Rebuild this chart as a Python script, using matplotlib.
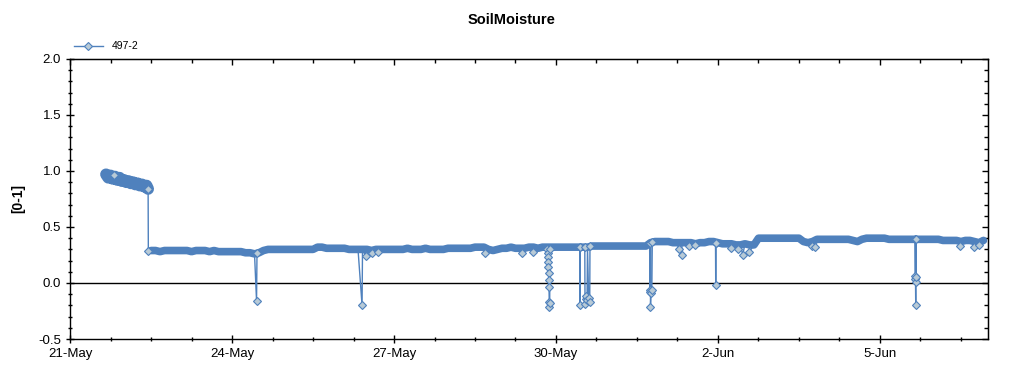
import numpy as np
import matplotlib.pyplot as plt
from matplotlib.lines import Line2D
from matplotlib.ticker import MultipleLocator, FixedLocator, FixedFormatter

plt.rcParams['font.family'] = ['Liberation Sans', 'DejaVu Sans']

# hours are counted from 21-May 00:00
# first day of readings (wet start), hourly
blob_hours = [16, 17, 18, 19, 20, 21, 22, 23, 24, 25, 26, 27, 28, 29, 30, 31, 32, 33, 34, 34.7]
blob_values = [0.97, 0.94, 0.96, 0.93, 0.95, 0.92, 0.94, 0.91, 0.92, 0.90, 0.91, 0.89,
               0.90, 0.88, 0.89, 0.87, 0.88, 0.86, 0.87, 0.84]

# main readings every 2 hours from 22-May 12:00
base_start = 36
base_values = [
    # 22-May (12h..22h)
    0.29, 0.29, 0.28, 0.29, 0.29, 0.29,
    # 23-May
    0.29, 0.29, 0.29, 0.28, 0.29, 0.29, 0.29, 0.28, 0.29, 0.28, 0.28, 0.28,
    # 24-May
    0.28, 0.28, 0.28, 0.27, 0.27, 0.26, 0.27, 0.29, 0.30, 0.30, 0.30, 0.30,
    # 25-May
    0.30, 0.30, 0.30, 0.30, 0.30, 0.30, 0.30, 0.32, 0.32, 0.31, 0.31, 0.31,
    # 26-May
    0.31, 0.31, 0.30, 0.30, 0.30, 0.30, 0.30, 0.29, 0.30, 0.30, 0.30, 0.30,
    # 27-May
    0.30, 0.30, 0.30, 0.31, 0.30, 0.30, 0.30, 0.31, 0.30, 0.30, 0.30, 0.30,
    # 28-May
    0.31, 0.31, 0.31, 0.31, 0.31, 0.31, 0.32, 0.32, 0.32, 0.30, 0.29, 0.30,
    # 29-May
    0.31, 0.31, 0.32, 0.31, 0.31, 0.31, 0.32, 0.32, 0.31, 0.32, 0.32, 0.32,
    # 30-May
    0.32, 0.32, 0.32, 0.32, 0.32, 0.32, 0.32, 0.32, 0.33, 0.33, 0.33, 0.33,
    # 31-May
    0.33, 0.33, 0.33, 0.33, 0.33, 0.33, 0.33, 0.33, 0.33, 0.36, 0.37, 0.37,
    # 1-Jun
    0.37, 0.37, 0.36, 0.36, 0.36, 0.36, 0.36, 0.35, 0.36, 0.36, 0.37, 0.37,
    # 2-Jun
    0.36, 0.35, 0.35, 0.35, 0.34, 0.34, 0.35, 0.34, 0.34, 0.40, 0.40, 0.40,
    # 3-Jun
    0.40, 0.40, 0.40, 0.40, 0.40, 0.40, 0.40, 0.37, 0.36, 0.37, 0.39, 0.39,
    # 4-Jun
    0.39, 0.39, 0.39, 0.39, 0.39, 0.39, 0.38, 0.37, 0.39, 0.40, 0.40, 0.40,
    # 5-Jun
    0.40, 0.40, 0.39, 0.39, 0.39, 0.39, 0.39, 0.39, 0.39, 0.39, 0.39, 0.39,
    # 6-Jun
    0.39, 0.39, 0.38, 0.38, 0.38, 0.38, 0.37, 0.38, 0.38, 0.37, 0.36, 0.38,
]

# single readings off the main band (drops and outliers)
spike_hours = [
    19.5, 34.8,
    82.9, 83.1,
    129.8, 131.4, 134, 137,
    184.4, 200.9, 205.8,
    212.2, 212.3, 212.4, 212.5, 212.6, 212.7, 212.8, 212.9, 213.0, 213.1, 213.2, 213.3,
    226.6, 226.7, 226.8, 228.8, 228.9, 229.2, 229.5, 229.8, 230.5, 231.0, 231.1,
    257.6, 257.8, 257.9, 258.0, 258.2, 258.6, 258.8,
    270.5, 271.9, 275, 278,
    286.9, 287.0, 287.1,
    294, 297, 299, 302,
    330, 331,
    375.5, 375.6, 375.7, 375.8, 375.9, 376.0, 376.1,
    395.6, 402, 404,
]
spike_values = [
    0.96, 0.29,
    -0.16, 0.27,
    -0.20, 0.24, 0.27, 0.28,
    0.27, 0.27, 0.28,
    0.30, 0.27, 0.23, 0.19, 0.14, 0.09, 0.03, -0.04, -0.17, -0.21, -0.18, 0.30,
    0.32, -0.20, 0.32, 0.32, -0.19, -0.14, -0.12, -0.15, -0.13, -0.17, 0.33,
    0.36, -0.06, -0.08, -0.21, -0.09, -0.06, 0.37,
    0.30, 0.25, 0.33, 0.34,
    0.36, -0.02, 0.36,
    0.31, 0.30, 0.25, 0.28,
    0.33, 0.32,
    0.39, 0.06, 0.04, 0.01, -0.20, 0.05, 0.39,
    0.33, 0.32, 0.34,
]

tick_labels = ["21-May", "24-May", "27-May", "30-May", "2-Jun", "5-Jun"]
series_name = "497-2"

base_hours = base_start + 2 * np.arange(len(base_values))
all_hours = np.concatenate([blob_hours, base_hours, spike_hours])
all_values = np.concatenate([blob_values, base_values, spike_values])
order = np.argsort(all_hours, kind="stable")

blue = "#4f81bd"
face = "#b8cad6"

fig = plt.figure(figsize=(10.24, 3.75), dpi=100)
ax = fig.add_axes([0.0684, 0.096, 0.8964, 0.7467])

ax.axhline(0, color="black", lw=1, zorder=1)
# thin connecting line through every reading
ax.plot(all_hours[order] / 24, all_values[order], color=blue, lw=1, zorder=2)
# densely logged readings merge into a solid band
ax.plot(np.array(blob_hours) / 24, blob_values, color=blue, lw=8.5,
        solid_capstyle="round", solid_joinstyle="round", zorder=3)
ax.plot(base_hours / 24, base_values, color=blue, lw=5.5,
        solid_capstyle="round", solid_joinstyle="round", zorder=3)
# isolated readings show as diamonds
ax.plot(np.array(spike_hours) / 24, spike_values, ls="none", marker="D", ms=4.2,
        mfc=face, mec=blue, mew=0.8, zorder=4)
ax.plot(blob_hours[-1] / 24, blob_values[-1], ls="none", marker="D", ms=4.2,
        mfc=face, mec=blue, mew=0.8, zorder=4)

ax.set_xlim(0, 17)
ax.set_ylim(-0.5, 2.0)
ax.xaxis.set_major_locator(FixedLocator([0, 3, 6, 9, 12, 15]))
ax.xaxis.set_major_formatter(FixedFormatter(tick_labels))
ax.xaxis.set_minor_locator(MultipleLocator(0.75))
ax.yaxis.set_major_locator(MultipleLocator(0.5))
ax.yaxis.set_minor_locator(MultipleLocator(0.1))
ax.yaxis.set_major_formatter(plt.FormatStrFormatter("%.1f"))

ax.tick_params(which="both", direction="inout", labelsize=9.5, width=1, colors="black")
ax.tick_params(which="major", length=6)
ax.tick_params(which="minor", length=3.5)
for sp in ax.spines.values():
    sp.set_linewidth(1)

# inward ticks on the top and right frame
top = ax.secondary_xaxis("top")
top.xaxis.set_major_locator(FixedLocator([0, 3, 6, 9, 12, 15]))
top.xaxis.set_minor_locator(MultipleLocator(0.75))
top.tick_params(which="both", direction="in", labeltop=False, width=1)
top.tick_params(which="major", length=4)
top.tick_params(which="minor", length=3)
right = ax.secondary_yaxis("right")
right.yaxis.set_major_locator(MultipleLocator(0.5))
right.yaxis.set_minor_locator(MultipleLocator(0.1))
right.tick_params(which="both", direction="in", labelright=False, width=1)
right.tick_params(which="major", length=4)
right.tick_params(which="minor", length=3)

ax.set_ylabel("[0-1]", fontsize=10, fontweight="bold", labelpad=9)
fig.suptitle("SoilMoisture", fontsize=10.5, fontweight="bold", y=0.965)

handle = Line2D([], [], color=blue, lw=1, marker="D", ms=4.2, mfc=face, mec=blue, mew=0.8)
fig.legend([handle], [series_name], loc="upper left", bbox_to_anchor=(0.063, 0.915),
           frameon=False, fontsize=7.5, handlelength=2.8)

fig.savefig("out.png", dpi=100)
